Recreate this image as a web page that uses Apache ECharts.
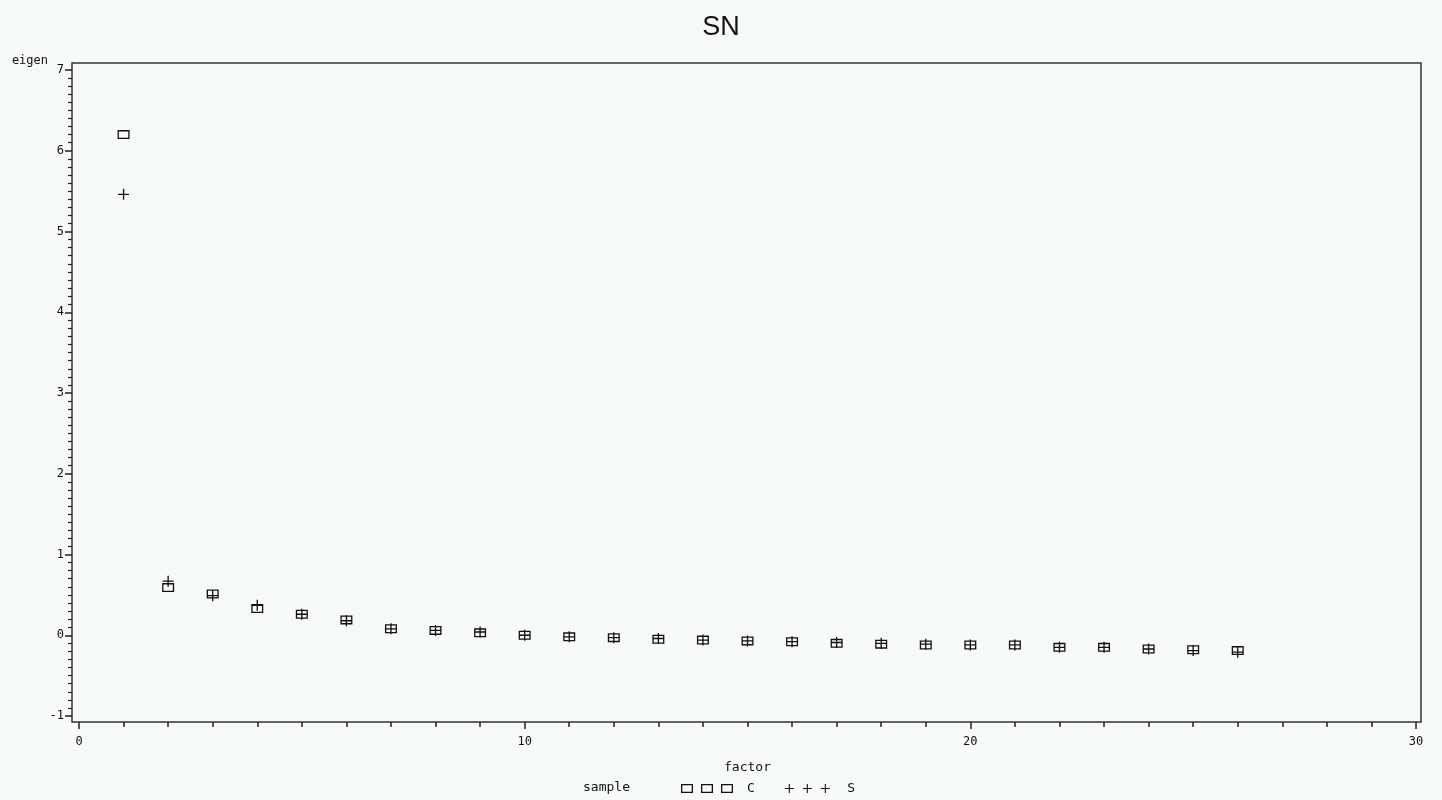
<!DOCTYPE html>
<html>
<head>
<meta charset="utf-8">
<script src="https://cdn.jsdelivr.net/npm/echarts@6/dist/echarts.min.js"></script>
<style>
  html, body { margin: 0; padding: 0; background: #f6faf8; }
</style>
</head>
<body>
<div id="main" style="width:1442px;height:800px;"></div>
<script type="text/javascript">
// 数据：因子序号与特征值
var factors = [1, 2, 3, 4, 5, 6, 7, 8, 9, 10, 11, 12, 13, 14, 15, 16, 17, 18, 19, 20, 21, 22, 23, 24, 25, 26];
var eigenC = [6.20, 0.59, 0.51, 0.33, 0.26, 0.19, 0.08, 0.06, 0.03, 0.00, -0.02, -0.03, -0.05, -0.06, -0.07, -0.08,
              -0.10, -0.11, -0.12, -0.12, -0.12, -0.15, -0.15, -0.17, -0.18, -0.19];
var eigenS = [5.46, 0.67, 0.49, 0.37, 0.26, 0.18, 0.08, 0.06, 0.04, 0.00, -0.02, -0.03, -0.04, -0.06, -0.07, -0.08,
              -0.09, -0.10, -0.11, -0.12, -0.12, -0.15, -0.15, -0.17, -0.19, -0.21];
var seriesNames = ['C', 'S'];

function pairs(xs, ys) {
    var out = [];
    for (var i = 0; i < xs.length; i++) {
        out.push([xs[i], ys[i]]);
    }
    return out;
}

var plusPath = 'path://M4.4,0h1.2v4.4h4.4v1.2h-4.4v4.4h-1.2v-4.4h-4.4v-1.2h4.4z';
var boxPath = 'path://M0,0h12v9h-12z M1.3,1.3v6.4h9.4v-6.4z';
// 图例里的三个符号
var threeBox = 'path://M0,0h12v9h-12z M1.3,1.3v6.4h9.4v-6.4z M20,0h12v9h-12z M21.3,1.3v6.4h9.4v-6.4z M40,0h12v9h-12z M41.3,1.3v6.4h9.4v-6.4z';
var threePlus = 'path://M4.4,0h1.2v4.4h4.4v1.2h-4.4v4.4h-1.2v-4.4h-4.4v-1.2h4.4z M24.4,0h1.2v4.4h4.4v1.2h-4.4v4.4h-1.2v-4.4h-4.4v-1.2h4.4z M44.4,0h1.2v4.4h4.4v1.2h-4.4v4.4h-1.2v-4.4h-4.4v-1.2h4.4z';

var sasFont = 'DejaVu Sans Mono';
var myChart = echarts.init(document.getElementById('main'));

var option = {
    backgroundColor: '#f6faf8',
    animation: false,
    title: {
        text: 'SN',
        left: 'center',
        top: 9,
        textStyle: { fontFamily: 'Liberation Sans', fontWeight: 'normal', fontSize: 27, color: '#111' }
    },
    grid: [
        // 外框
        { left: 72, right: 21, top: 63, bottom: 78, show: true, borderColor: '#333', borderWidth: 1.5, backgroundColor: 'transparent' },
        // 坐标区域
        { left: 79, right: 26, top: 70, bottom: 84 }
    ],
    xAxis: [
        { gridIndex: 0, type: 'value', min: 0, max: 1, show: false },
        {
            gridIndex: 1,
            type: 'value',
            min: 0,
            max: 30,
            interval: 10,
            offset: 6,
            name: 'factor',
            nameLocation: 'middle',
            nameGap: 39,
            nameTextStyle: { fontFamily: sasFont, fontSize: 13, color: '#111' },
            axisLine: { show: false, onZero: false },
            axisTick: { show: true, length: 7, lineStyle: { color: '#222', width: 1.5 } },
            minorTick: { show: true, splitNumber: 10, length: 5, lineStyle: { color: '#222', width: 1.5 } },
            axisLabel: { fontFamily: sasFont, fontSize: 12, color: '#111', margin: 14 },
            splitLine: { show: false }
        }
    ],
    yAxis: [
        { gridIndex: 0, type: 'value', min: 0, max: 1, show: false },
        {
            gridIndex: 1,
            type: 'value',
            min: -1,
            max: 7,
            interval: 1,
            offset: 7,
            name: 'eigen',
            nameLocation: 'end',
            nameGap: 3,
            nameTextStyle: { fontFamily: sasFont, fontSize: 12, color: '#111', align: 'right', padding: [0, 24, 0, 0] },
            axisLine: { show: false, onZero: false },
            axisTick: { show: true, length: 7, lineStyle: { color: '#222', width: 1.5 } },
            minorTick: { show: true, splitNumber: 10, length: 4, lineStyle: { color: '#222', width: 1.2 } },
            axisLabel: { fontFamily: sasFont, fontSize: 12, color: '#111', margin: 8 },
            splitLine: { show: false }
        }
    ],
    legend: {
        left: 676,
        top: 777,
        itemWidth: 52,
        itemHeight: 9,
        itemGap: 30,
        textStyle: { fontFamily: sasFont, fontSize: 13, color: '#111', padding: [0, 0, 0, 9] },
        data: [
            { name: 'C', icon: threeBox, itemStyle: { color: '#111', borderWidth: 0 } },
            { name: 'S', icon: threePlus, itemStyle: { color: '#111', borderWidth: 0 } }
        ]
    },
    graphic: [
        {
            type: 'text',
            left: 583,
            top: 781,
            style: { text: 'sample', fontFamily: sasFont, fontSize: 13, fill: '#111' }
        }
    ],
    series: [
        {
            name: seriesNames[0],
            type: 'scatter',
            xAxisIndex: 1,
            yAxisIndex: 1,
            symbol: boxPath,
            symbolSize: [12, 9],
            itemStyle: { color: '#111', opacity: 1 },
            data: pairs(factors, eigenC)
        },
        {
            name: seriesNames[1],
            type: 'scatter',
            xAxisIndex: 1,
            yAxisIndex: 1,
            symbol: plusPath,
            symbolSize: [11, 11],
            itemStyle: { color: '#111', opacity: 1 },
            data: pairs(factors, eigenS)
        }
    ]
};

myChart.setOption(option);
</script>
</body>
</html>
